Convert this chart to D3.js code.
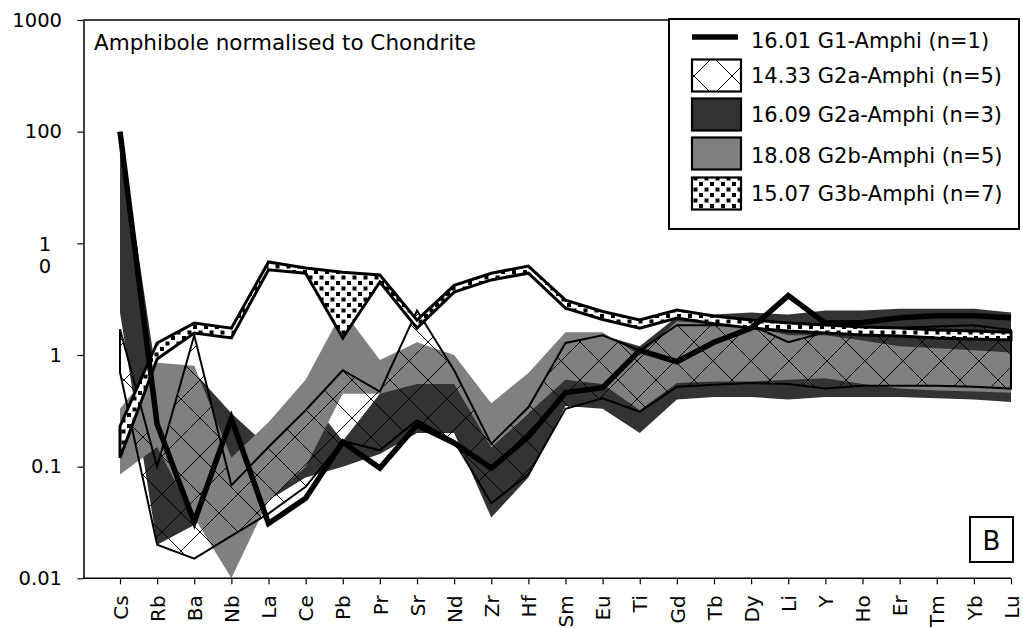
<!DOCTYPE html>
<html><head><meta charset="utf-8">
<script src="https://cdn.jsdelivr.net/npm/d3@7"></script>
<style>
body{margin:0;background:#fff}
svg{display:block}
text{font-family:"DejaVu Sans",sans-serif;fill:#000}
</style>
</head><body>
<svg id="c" width="1023" height="628"></svg>
<script>
const elements = ["Cs","Rb","Ba","Nb","La","Ce","Pb","Pr","Sr","Nd","Zr","Hf","Sm","Eu","Ti","Gd","Tb","Dy","Li","Y","Ho","Er","Tm","Yb","Lu"];
const yTicks = [0.01, 0.1, 1, 10, 100, 1000];
const yTickLabels = ["0.01", "0.1", "1", "10", "100", "1000"];
const legendLabels = ["16.01 G1-Amphi (n=1)", "14.33 G2a-Amphi (n=5)", "16.09 G2a-Amphi (n=3)", "18.08 G2b-Amphi (n=5)", "15.07 G3b-Amphi (n=7)"];
const titleText = "Amphibole normalised to Chondrite";
const panelLabel = "B";

// 16.01 G1-Amphi (n=1) single analysis
const g1 = [100, 0.24, 0.032, 0.27, 0.031, 0.052, 0.166, 0.097, 0.236, 0.163, 0.097, 0.185, 0.46, 0.51, 1.1, 0.87, 1.3, 1.74, 3.4, 1.93, 1.95, 2.15, 2.25, 2.25, 2.15];
// 14.33 G2a-Amphi (n=5) range
const g2a1433Max = [1.7, 0.1, 1.5, 0.068, 0.15, 0.32, 0.73, 0.47, 2.5, 0.73, 0.16, 0.34, 1.28, 1.5, 1.1, 1.85, 1.85, 1.85, 1.3, 1.6, 1.7, 1.75, 1.8, 1.85, 1.67];
const g2a1433Min = [0.7, 0.02, 0.015, 0.024, 0.038, 0.066, 0.17, 0.14, 0.26, 0.17, 0.047, 0.085, 0.33, 0.41, 0.31, 0.52, 0.54, 0.56, 0.55, 0.5, 0.53, 0.53, 0.53, 0.52, 0.5];
// 16.09 G2a-Amphi (n=3) range
const g2a1609Max = [100, 0.6, 0.7, 0.3, 0.15, 0.45, 0.17, 0.45, 0.7, 0.6, 0.15, 0.3, 1.3, 1.5, 1.2, 2.2, 2.3, 2.4, 2.3, 2.5, 2.5, 2.6, 2.6, 2.6, 2.4];
const g2a1609Min = [2.4, 0.02, 0.03, 0.05, 0.05, 0.08, 0.1, 0.13, 0.2, 0.2, 0.035, 0.08, 0.35, 0.33, 0.2, 0.4, 0.42, 0.42, 0.4, 0.42, 0.42, 0.42, 0.41, 0.4, 0.38];
// 18.08 G2b-Amphi (n=5) range
const g2bMax = [0.33, 0.85, 0.8, 0.12, 0.25, 0.6, 2.5, 0.9, 1.3, 1.0, 0.37, 0.69, 1.6, 1.6, 1.0, 2.0, 1.9, 1.8, 1.5, 1.5, 1.35, 1.2, 1.15, 1.1, 1.05];
const g2bMin = [0.085, 0.15, 0.035, 0.01, 0.05, 0.1, 0.45, 0.45, 0.55, 0.55, 0.15, 0.3, 0.6, 0.55, 0.32, 0.56, 0.58, 0.58, 0.6, 0.62, 0.55, 0.5, 0.48, 0.47, 0.46];
// 15.07 G3b-Amphi (n=7) range
const g3bMax = [0.23, 1.28, 1.93, 1.74, 6.8, 6.0, 5.5, 5.2, 2.05, 4.2, 5.4, 6.25, 3.1, 2.45, 2.06, 2.53, 2.23, 2.06, 1.93, 1.86, 1.78, 1.74, 1.67, 1.64, 1.6];
const g3bMin = [0.12, 0.92, 1.57, 1.42, 5.8, 5.4, 1.42, 4.5, 1.74, 3.66, 4.7, 5.4, 2.63, 2.08, 1.74, 2.14, 1.9, 1.74, 1.64, 1.57, 1.51, 1.48, 1.42, 1.39, 1.36];

const svg = d3.select("#c");
const x = d3.scalePoint().domain(elements).range([120, 1011]);
const y = d3.scaleLog().domain([0.01, 1000]).range([578.3, 20]);
const plotLeft = 83.5, plotTop = 20, plotBottom = 578.3;

const defs = svg.append("defs");
const hp = defs.append("pattern").attr("id", "hatch").attr("patternUnits", "userSpaceOnUse")
  .attr("width", 38).attr("height", 38).attr("x", 10).attr("y", 0);
hp.append("path").attr("d", "M-2,-2L40,40M40,-2L-2,40").attr("stroke", "#000").attr("stroke-width", 1).attr("fill", "none");
const dp = defs.append("pattern").attr("id", "dots").attr("patternUnits", "userSpaceOnUse")
  .attr("width", 11).attr("height", 11);
dp.append("rect").attr("width", 11).attr("height", 11).attr("fill", "#fff");
dp.append("rect").attr("x", 0.5).attr("y", 0.5).attr("width", 4).attr("height", 4).attr("fill", "#000");
dp.append("rect").attr("x", 6).attr("y", 6).attr("width", 4).attr("height", 4).attr("fill", "#000");

function band(lo, hi) {
  return d3.area()
    .x((d, i) => x(elements[i]))
    .y0((d, i) => y(lo[i]))
    .y1((d, i) => y(hi[i]))(elements);
}
const plot = svg.append("g");
plot.append("path").attr("d", band(g2a1609Min, g2a1609Max)).attr("fill", "#333333");
plot.append("path").attr("d", band(g2bMin, g2bMax)).attr("fill", "#808080");
plot.append("path").attr("d", band(g2a1433Min, g2a1433Max)).attr("fill", "url(#hatch)")
  .attr("stroke", "#000").attr("stroke-width", 2).attr("stroke-linejoin", "miter");
plot.append("path").attr("d", band(g3bMin, g3bMax)).attr("fill", "url(#dots)")
  .attr("stroke", "#000").attr("stroke-width", 3).attr("stroke-linejoin", "miter");
plot.append("path").attr("d", d3.line().x((d, i) => x(elements[i])).y(d => y(d))(g1))
  .attr("fill", "none").attr("stroke", "#000").attr("stroke-width", 5.5).attr("stroke-linejoin", "miter");

// axes
const yAxis = svg.append("g").attr("transform", `translate(${plotLeft},0)`)
  .call(d3.axisLeft(y).tickValues(yTicks).tickSize(6).tickSizeOuter(0)
    .tickFormat((d, i) => yTickLabels[i]));
yAxis.select(".domain").attr("stroke", "#000").attr("stroke-width", 1.5);
yAxis.selectAll(".tick line").attr("stroke", "#000").attr("stroke-width", 1.2);
yAxis.selectAll(".tick text").attr("font-size", 19.5).attr("font-family", "DejaVu Sans").attr("x", -21.5);
yAxis.selectAll(".tick text").filter(d => d === 10).each(function () {
  const t = d3.select(this);
  const s = t.text();
  t.text(null).attr("text-anchor", "middle").attr("x", -38.5).attr("dy", null);
  t.append("tspan").attr("x", -38.5).attr("dy", "0.35em").text(s[0]);
  t.append("tspan").attr("x", -38.5).attr("dy", "1.15em").text(s[1]);
});

const xAxis = svg.append("g").attr("transform", `translate(0,${plotBottom})`)
  .call(d3.axisBottom(x).tickSize(6).tickSizeOuter(0));
xAxis.select(".domain").remove();
xAxis.selectAll(".tick line").attr("stroke", "#000").attr("stroke-width", 1.2);
xAxis.selectAll(".tick text").attr("font-size", 20).attr("font-family", "DejaVu Sans")
  .attr("transform", "rotate(-90)").attr("text-anchor", "end")
  .attr("x", -17).attr("y", 0).attr("dy", "0.36em");
svg.append("line").attr("x1", plotLeft).attr("x2", x("Lu")).attr("y1", plotBottom).attr("y2", plotBottom)
  .attr("stroke", "#000").attr("stroke-width", 1.5);
svg.append("line").attr("x1", plotLeft).attr("x2", 669).attr("y1", plotTop).attr("y2", plotTop)
  .attr("stroke", "#000").attr("stroke-width", 1.5);

// title
svg.append("text").attr("x", 94).attr("y", 50).attr("font-size", 21.5).text(titleText);

// legend
const lg = svg.append("g");
lg.append("rect").attr("x", 669).attr("y", 19).attr("width", 350).attr("height", 210)
  .attr("fill", "#fff").attr("stroke", "#000").attr("stroke-width", 2);
const rowC = [37, 75.5, 114.5, 153.5, 193.5];
const swFill = [null, "url(#hatch)", "#333333", "#808080", "url(#dots)"];
legendLabels.forEach((lab, i) => {
  if (i === 0) {
    lg.append("line").attr("x1", 692).attr("x2", 738).attr("y1", rowC[0]).attr("y2", rowC[0])
      .attr("stroke", "#000").attr("stroke-width", 5.5);
  } else {
    lg.append("rect").attr("x", 692).attr("y", rowC[i] - 16).attr("width", 49).attr("height", 32)
      .attr("fill", swFill[i]).attr("stroke", "#000").attr("stroke-width", 2.2);
  }
  lg.append("text").attr("x", 751).attr("y", [47.6, 82.6, 122.3, 162.6, 200.9][i])
    .attr("font-size", 21).text(lab);
});

// panel label
svg.append("rect").attr("x", 970).attr("y", 517).attr("width", 43).attr("height", 45)
  .attr("fill", "#fff").attr("stroke", "#000").attr("stroke-width", 2);
svg.append("text").attr("x", 991.5).attr("y", 549.5).attr("text-anchor", "middle")
  .attr("font-size", 26).text(panelLabel);
</script>
</body></html>
